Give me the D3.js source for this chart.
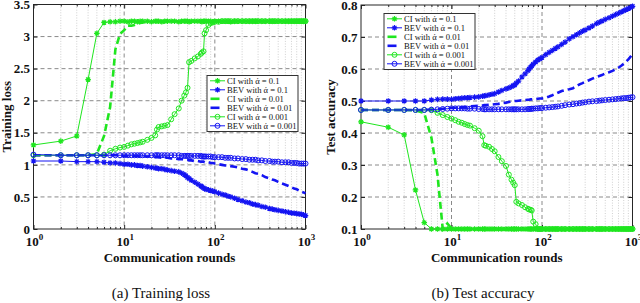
<!DOCTYPE html>
<html>
<head>
<meta charset="utf-8">
<script src="https://cdn.jsdelivr.net/npm/d3@7"></script>
<style>
  body { margin: 0; background: #fff; }
  svg { display: block; font-family: "Liberation Serif", "Times New Roman", serif; }
  svg text { font-family: "Liberation Serif", "Times New Roman", serif; }
</style>
</head>
<body>
<svg id="fig" width="640" height="303"></svg>
<script>
const rounds = [
  1,2,3,4,5,6,7,8,9,10,11,12,13,14,15,16,
  18,20,22,23,24,26,28,30,
  33,36,40,43,46,48,50,52,55,
  60,65,70,72,75,77,80,85,90,95,100,
  110,120,130,140,150,165,180,200,
  220,240,260,280,300,330,360,400,
  430,460,500,550,600,650,700,750,800,850,900,950,1000
];

// --- (a) training loss ---
const lossCI1 = [
  1.31,1.37,1.45,2.33,3.05,3.22,3.23,3.23,3.24,3.24,3.23,3.24,3.24,3.23,3.24,3.24,
  3.24,3.23,3.24,3.24,3.24,3.23,3.24,3.24,
  3.24,3.24,3.23,3.24,3.24,3.24,3.24,3.23,3.24,
  3.24,3.24,3.24,3.23,3.24,3.24,3.24,3.24,3.24,3.23,3.24,
  3.24,3.24,3.24,3.24,3.23,3.24,3.24,3.24,
  3.24,3.24,3.24,3.24,3.24,3.24,3.24,3.24,
  3.24,3.24,3.24,3.24,3.24,3.24,3.24,3.24,3.24,3.24,3.24,3.24,3.24
];
const lossBEV1 = [
  1.06,1.06,1.05,1.05,1.05,1.04,1.03,1.03,1.02,1.01,1.01,1.0,1.0,0.99,0.99,0.98,
  0.97,0.96,0.95,0.95,0.94,0.94,0.93,0.92,
  0.91,0.90,0.89,0.87,0.85,0.83,0.80,0.79,0.76,
  0.73,0.70,0.67,0.66,0.64,0.63,0.62,0.61,0.60,0.59,0.58,
  0.56,0.54,0.53,0.51,0.50,0.48,0.46,0.44,
  0.42,0.41,0.39,0.38,0.37,0.35,0.34,0.32,
  0.31,0.30,0.29,0.28,0.27,0.26,0.25,0.245,0.24,0.235,0.23,0.22,0.21
];
const lossCI2 = [
  1.15,1.15,1.15,1.15,1.17,1.45,1.9,2.8,3.04,3.1,3.17,3.17,3.18,3.2,3.21,3.22,
  3.23,3.23,3.23,3.24,3.24,3.24,3.24,3.24,
  3.24,3.24,3.24,3.24,3.24,3.24,3.24,3.24,3.24,
  3.24,3.24,3.24,3.24,3.24,3.24,3.24,3.24,3.24,3.24,3.24,
  3.24,3.24,3.24,3.24,3.24,3.24,3.24,3.24,
  3.24,3.24,3.24,3.24,3.24,3.24,3.24,3.24,
  3.24,3.24,3.24,3.24,3.24,3.24,3.24,3.24,3.24,3.24,3.24,3.24,3.24
];
const lossBEV2 = [
  1.15,1.15,1.15,1.15,1.15,1.15,1.15,1.15,1.15,1.14,1.14,1.14,1.14,1.14,1.14,1.13,
  1.13,1.13,1.12,1.12,1.12,1.11,1.11,1.11,
  1.10,1.10,1.09,1.09,1.08,1.08,1.08,1.07,1.07,
  1.06,1.06,1.05,1.05,1.05,1.04,1.04,1.04,1.03,1.03,1.02,
  1.01,1.00,0.99,0.99,0.98,0.97,0.96,0.94,
  0.93,0.91,0.89,0.87,0.86,0.84,0.81,0.79,
  0.77,0.76,0.735,0.71,0.69,0.67,0.65,0.63,0.62,0.60,0.58,0.57,0.555
];
const lossCI3 = [
  1.15,1.15,1.15,1.15,1.15,1.16,1.22,1.25,1.27,1.28,1.30,1.32,1.33,1.34,1.35,1.36,
  1.39,1.42,1.46,1.55,1.59,1.60,1.61,1.62,
  1.71,1.79,1.88,2.0,2.08,2.13,2.2,2.6,2.62,
  2.66,2.69,2.73,2.75,2.77,3.05,3.1,3.18,3.21,3.22,3.23,
  3.23,3.24,3.24,3.24,3.24,3.24,3.24,3.24,
  3.24,3.24,3.24,3.24,3.24,3.24,3.24,3.24,
  3.24,3.24,3.24,3.24,3.24,3.24,3.24,3.24,3.24,3.24,3.24,3.24,3.24
];
const lossBEV3 = [
  1.16,1.15,1.15,1.15,1.15,1.15,1.15,1.15,1.15,1.15,1.15,1.15,1.15,1.15,1.15,1.15,
  1.15,1.15,1.15,1.15,1.15,1.15,1.15,1.15,
  1.15,1.15,1.15,1.14,1.14,1.14,1.14,1.14,1.14,
  1.14,1.14,1.14,1.13,1.13,1.13,1.13,1.13,1.13,1.12,1.12,
  1.12,1.12,1.11,1.11,1.11,1.10,1.10,1.09,
  1.09,1.08,1.08,1.08,1.07,1.07,1.06,1.06,
  1.05,1.05,1.05,1.04,1.04,1.04,1.03,1.03,1.03,1.02,1.02,1.02,1.02
];

// --- (b) test accuracy ---
const accCI1 = [
  0.435,0.418,0.394,0.222,0.12,0.1,0.1,0.1,0.1,0.1,0.1,0.1,0.1,0.1,0.1,0.1,
  0.1,0.1,0.1,0.1,0.1,0.1,0.1,0.1,
  0.1,0.1,0.1,0.1,0.1,0.1,0.1,0.1,0.1,
  0.1,0.1,0.1,0.1,0.1,0.1,0.1,0.1,0.1,0.1,0.1,
  0.1,0.1,0.1,0.1,0.1,0.1,0.1,0.1,
  0.1,0.1,0.1,0.1,0.1,0.1,0.1,0.1,
  0.1,0.1,0.1,0.1,0.1,0.1,0.1,0.1,0.1,0.1,0.1,0.1,0.1
];
const accBEV1 = [
  0.5,0.5,0.5,0.5,0.5,0.503,0.505,0.506,0.506,0.505,0.507,0.508,0.509,0.51,0.51,0.511,
  0.512,0.513,0.515,0.516,0.517,0.519,0.521,0.523,
  0.528,0.533,0.538,0.541,0.545,0.548,0.55,0.556,0.562,
  0.575,0.585,0.595,0.6,0.606,0.61,0.615,0.622,0.628,0.632,0.636,
  0.645,0.652,0.658,0.664,0.669,0.677,0.684,0.694,
  0.701,0.707,0.713,0.718,0.722,0.728,0.734,0.742,
  0.746,0.75,0.755,0.76,0.765,0.77,0.774,0.778,0.782,0.786,0.789,0.792,0.796
];
const accCI2 = [
  0.472,0.472,0.472,0.471,0.462,0.385,0.27,0.1,0.117,0.102,0.1,0.1,0.1,0.1,0.1,0.1,
  0.1,0.1,0.1,0.1,0.1,0.1,0.1,0.1,
  0.1,0.1,0.1,0.1,0.1,0.1,0.1,0.1,0.1,
  0.1,0.1,0.1,0.1,0.1,0.1,0.1,0.1,0.1,0.1,0.1,
  0.1,0.1,0.1,0.1,0.1,0.1,0.1,0.1,
  0.1,0.1,0.1,0.1,0.1,0.1,0.1,0.1,
  0.1,0.1,0.1,0.1,0.1,0.1,0.1,0.1,0.1,0.1,0.1,0.1,0.1
];
const accBEV2 = [
  0.472,0.472,0.472,0.472,0.472,0.473,0.474,0.476,0.477,0.478,0.479,0.48,0.48,0.481,0.482,0.483,
  0.484,0.485,0.486,0.487,0.487,0.488,0.489,0.49,
  0.491,0.493,0.495,0.497,0.498,0.499,0.5,0.5,0.501,
  0.502,0.503,0.504,0.504,0.505,0.505,0.506,0.506,0.507,0.508,0.508,
  0.51,0.514,0.518,0.522,0.526,0.531,0.534,0.537,
  0.54,0.546,0.552,0.556,0.56,0.565,0.57,0.575,
  0.578,0.581,0.586,0.59,0.594,0.599,0.604,0.61,0.616,0.623,0.63,0.638,0.648
];
const accCI3 = [
  0.472,0.472,0.472,0.472,0.472,0.471,0.463,0.456,0.45,0.445,0.44,0.435,0.432,0.428,0.425,0.423,
  0.415,0.407,0.39,0.362,0.36,0.357,0.35,0.343,
  0.325,0.312,0.297,0.27,0.254,0.245,0.237,0.185,0.18,
  0.175,0.168,0.163,0.161,0.16,0.158,0.123,0.115,0.1,0.1,0.1,
  0.1,0.1,0.1,0.1,0.1,0.1,0.1,0.1,
  0.1,0.1,0.1,0.1,0.1,0.1,0.1,0.1,
  0.1,0.1,0.1,0.1,0.1,0.1,0.1,0.1,0.1,0.1,0.1,0.1,0.1
];
const accBEV3 = [
  0.472,0.472,0.472,0.472,0.472,0.473,0.474,0.475,0.476,0.477,0.477,0.477,0.477,0.477,0.476,0.476,
  0.476,0.475,0.475,0.474,0.474,0.474,0.474,0.474,
  0.474,0.474,0.474,0.474,0.474,0.474,0.474,0.474,0.474,
  0.474,0.474,0.475,0.475,0.475,0.476,0.476,0.477,0.477,0.478,0.478,
  0.479,0.48,0.481,0.482,0.483,0.485,0.487,0.489,
  0.49,0.492,0.493,0.495,0.496,0.498,0.499,0.5,
  0.501,0.502,0.503,0.504,0.505,0.506,0.507,0.508,0.509,0.509,0.51,0.511,0.512
];

const legendNames = [
  "CI with ά = 0.1", "BEV with ά = 0.1",
  "CI with ά = 0.01", "BEV with ά = 0.01",
  "CI with ά = 0.001", "BEV with ά = 0.001"
];
const decades = [1, 10, 100, 1000];
const lossTicks = [0, 0.5, 1, 1.5, 2, 2.5, 3, 3.5];
const accTicks = [0.1, 0.2, 0.3, 0.4, 0.5, 0.6, 0.7, 0.8];

// --- styles (MATLAB-like) ---
const FONT = "'Liberation Serif', 'Times New Roman', serif";
const GREEN = "#1fe61f", BLUE = "#1414f2";
const styles = [
  {color: GREEN, width: 1,   dash: null,  marker: "star"},
  {color: BLUE,  width: 1,   dash: null,  marker: "star"},
  {color: GREEN, width: 2.6, dash: "7,4", marker: null},
  {color: BLUE,  width: 2.6, dash: "7,4", marker: null},
  {color: GREEN, width: 1,   dash: null,  marker: "circle"},
  {color: BLUE,  width: 1,   dash: null,  marker: "circle"}
];
const STAR = "M-2.8,0H2.8M0,-2.8V2.8M-2,-2L2,2M-2,2L2,-2";

const svg = d3.select("#fig");

const minorRounds = [];
[1, 10, 100].forEach(d => { for (let k = 2; k <= 9; k++) minorRounds.push(d * k); });

function drawMarkers(g, pts, st) {
  if (st.marker === "star") {
    g.selectAll(null).data(pts).join("path")
      .attr("transform", d => `translate(${d[0]},${d[1]})`)
      .attr("d", STAR)
      .attr("fill", "none").attr("stroke", st.color).attr("stroke-width", 1.2);
  } else if (st.marker === "circle") {
    g.selectAll(null).data(pts).join("circle")
      .attr("cx", d => d[0]).attr("cy", d => d[1]).attr("r", 2.5)
      .attr("fill", "none").attr("stroke", st.color).attr("stroke-width", 1);
  }
}

function panel(p) {
  const x = d3.scaleLog().domain([1, 1000]).range([p.x0, p.x1]);
  const y = d3.scaleLinear().domain([p.ticks[0], p.ticks[p.ticks.length - 1]]).range([p.y1, p.y0]);
  const g = svg.append("g");

  // minor grid (dotted)
  g.selectAll(null).data(minorRounds).join("line")
    .attr("x1", d => x(d)).attr("x2", d => x(d))
    .attr("y1", p.y0).attr("y2", p.y1)
    .attr("stroke", "#c4c4c4").attr("stroke-width", 0.8)
    .attr("stroke-dasharray", "1,1.6");

  // major grid (dashed)
  g.selectAll(null).data([10, 100]).join("line")
    .attr("x1", d => x(d)).attr("x2", d => x(d))
    .attr("y1", p.y0).attr("y2", p.y1)
    .attr("stroke", "#8a8a8a").attr("stroke-width", 1)
    .attr("stroke-dasharray", "4,3");
  g.selectAll(null).data(p.ticks.slice(1, -1)).join("line")
    .attr("x1", p.x0).attr("x2", p.x1)
    .attr("y1", d => y(d)).attr("y2", d => y(d))
    .attr("stroke", "#8a8a8a").attr("stroke-width", 1)
    .attr("stroke-dasharray", "4,3");

  // axes with inward ticks
  const bottomMaj = g.append("g").attr("transform", `translate(0,${p.y1})`)
    .call(d3.axisBottom(x).tickValues(decades).tickSize(-4).tickFormat(""));
  const bottomMin = g.append("g").attr("transform", `translate(0,${p.y1})`)
    .call(d3.axisBottom(x).tickValues(minorRounds).tickSize(-2).tickFormat(""));
  const topMaj = g.append("g").attr("transform", `translate(0,${p.y0})`)
    .call(d3.axisTop(x).tickValues(decades).tickSize(-4).tickFormat(""));
  const topMin = g.append("g").attr("transform", `translate(0,${p.y0})`)
    .call(d3.axisTop(x).tickValues(minorRounds).tickSize(-2).tickFormat(""));
  const left = g.append("g").attr("transform", `translate(${p.x0},0)`)
    .call(d3.axisLeft(y).tickValues(p.ticks).tickSize(-4).tickPadding(3.5).tickFormat(d3.format("")));
  const right = g.append("g").attr("transform", `translate(${p.x1},0)`)
    .call(d3.axisRight(y).tickValues(p.ticks).tickSize(-4).tickFormat(""));
  [bottomMaj, bottomMin, topMaj, topMin, left, right].forEach(a => {
    a.attr("font-family", FONT);
    a.select(".domain").remove();
    a.selectAll("line").attr("stroke", "#262626");
  });
  left.selectAll("text")
    .attr("font-family", FONT)
    .style("font-size", "13px").style("font-weight", "bold").attr("fill", "#111");

  // frame
  g.append("rect")
    .attr("x", p.x0).attr("y", p.y0)
    .attr("width", p.x1 - p.x0).attr("height", p.y1 - p.y0)
    .attr("fill", "none").attr("stroke", "#262626").attr("stroke-width", 1);

  // x tick labels 10^n
  decades.forEach((d, i) => {
    const t = g.append("text")
      .attr("x", x(d) + 1).attr("y", p.y1 + 16.5)
      .attr("text-anchor", "middle").attr("font-family", FONT)
      .style("font-size", "13px").style("font-weight", "bold").attr("fill", "#111");
    t.append("tspan").text("10");
    t.append("tspan").attr("dy", -5.5).style("font-size", "9px").text(i);
  });

  // axis labels and caption
  g.append("text")
    .attr("x", (p.x0 + p.x1) / 2).attr("y", 262)
    .attr("text-anchor", "middle").attr("font-family", FONT)
    .style("font-size", "13px").style("font-weight", "bold").attr("fill", "#111")
    .text("Communication rounds");
  g.append("text")
    .attr("transform", `translate(${p.ylabX},${(p.y0 + p.y1) / 2}) rotate(-90)`)
    .attr("text-anchor", "middle").attr("font-family", FONT)
    .style("font-size", "13px").style("font-weight", "bold").attr("fill", "#111")
    .text(p.ylabel);
  g.append("text")
    .attr("x", p.capX).attr("y", 297.5)
    .attr("text-anchor", "middle").attr("font-family", FONT)
    .style("font-size", "15px").attr("fill", "#111")
    .text(p.caption);

  // series
  const line = d3.line().x((d, i) => x(rounds[i])).y(d => y(d));
  p.series.forEach((vals, k) => {
    const st = styles[k];
    const sg = g.append("g");
    sg.append("path").attr("d", line(vals))
      .attr("fill", "none").attr("stroke", st.color)
      .attr("stroke-width", st.width)
      .attr("stroke-dasharray", st.dash);
    drawMarkers(sg, vals.map((v, i) => [x(rounds[i]), y(v)]), st);
  });

  // legend
  const lg = g.append("g").attr("transform", `translate(${p.leg[0]},${p.leg[1]})`);
  lg.append("rect").attr("width", 91).attr("height", 56)
    .attr("fill", "#fff").attr("stroke", "#333").attr("stroke-width", 1);
  legendNames.forEach((name, k) => {
    const st = styles[k];
    const cy = 5.3 + k * 9;
    if (st.marker) {
      lg.append("line").attr("x1", 3).attr("x2", 18).attr("y1", cy).attr("y2", cy)
        .attr("stroke", st.color).attr("stroke-width", 1);
      drawMarkers(lg, [[10.5, cy]], st);
    } else {
      lg.append("line").attr("x1", 3.5).attr("x2", 12.5).attr("y1", cy).attr("y2", cy)
        .attr("stroke", st.color).attr("stroke-width", 2.6);
    }
    lg.append("text").attr("x", 20).attr("y", cy + 3).attr("font-family", FONT)
      .style("font-size", "8.6px").attr("fill", "#111")
      .text(name);
  });
}

panel({
  x0: 33.5, x1: 305.5, y0: 4.5, y1: 229,
  ticks: lossTicks, ylabel: "Training loss", ylabX: 10.5,
  caption: "(a) Training loss", capX: 161,
  series: [lossCI1, lossBEV1, lossCI2, lossBEV2, lossCI3, lossBEV3],
  leg: [207, 75.5]
});
panel({
  x0: 361, x1: 632.5, y0: 5, y1: 229,
  ticks: accTicks, ylabel: "Test accuracy", ylabX: 335,
  caption: "(b) Test accuracy", capX: 483,
  series: [accCI1, accBEV1, accCI2, accBEV2, accCI3, accBEV3],
  leg: [384, 13.5]
});
</script>
</body>
</html>
